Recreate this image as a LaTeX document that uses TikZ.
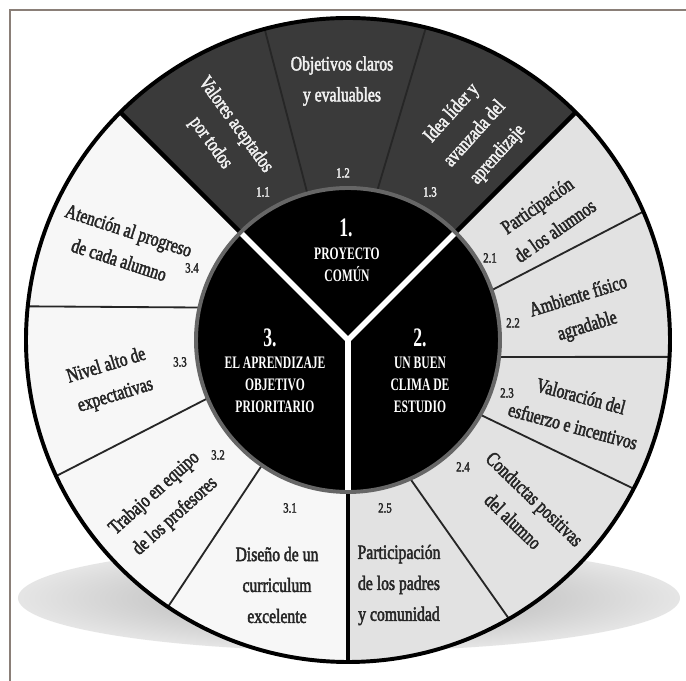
\documentclass[tikz,border=0pt]{standalone}
\usepackage{fontspec}
\setmainfont{Liberation Serif}[FakeStretch=0.78]
\newfontfamily\segfont{Liberation Serif}[FakeStretch=0.77, FakeBold=2.2]
\newfontfamily\hubfont{Liberation Serif}[FakeStretch=0.66]
\definecolor{framegray}{HTML}{8A7F78}
\definecolor{darkseg}{HTML}{3A3A3A}
\definecolor{greyseg}{HTML}{E2E2E2}
\definecolor{whiteseg}{HTML}{F7F7F7}
\tikzset{seg/.style={font=\segfont\fontsize{14.5}{22}\selectfont,align=center,text=black!85,inner sep=0pt}}
\tikzset{segw/.style={seg,text=black!6}}
\tikzset{num/.style={font=\segfont\fontsize{10}{10}\selectfont,text=black!85,inner sep=0pt}}
\tikzset{numw/.style={num,text=black!6}}
\tikzset{hub/.style={font=\hubfont\bfseries\fontsize{12.5}{15.6}\selectfont,align=center,text=white,inner sep=0pt}}
\tikzset{hubnum/.style={font=\hubfont\bfseries\fontsize{19}{20}\selectfont,text=white,inner sep=0pt}}
\tikzset{divthin/.style={line width=1.3pt,black!85}}
\tikzset{divthick/.style={line width=3.2pt}}

\begin{document}
\begin{tikzpicture}[x=0.025cm,y=0.025cm]
    \useasboundingbox[fill=white] (-348,-341) rectangle (338,340);
    \draw[line width=1.3pt, framegray] (-338,-341) -- (-338,330) -- (338,330);
    \shade[inner color=black!34, outer color=black!10] (1,-258) ellipse [x radius=331, y radius=53];

    \coordinate (hub) at (0,0);
    \fill[whiteseg] (hub) circle[radius=322];
    \fill[greyseg] (hub) -- (45:322) arc[start angle=45, end angle=-90, radius=322] -- cycle;
    \fill[darkseg] (hub) -- (45:322) arc[start angle=45, end angle=135, radius=322] -- cycle;

    \draw[divthin] (105.5:150) -- (105:322);
    \draw[divthin] (79:150) -- (76:322);
    \draw[divthin] (19:150) -- (23.5:322);
    \draw[divthin] (-6.5:150) -- (-3:322);
    \draw[divthin] (-29.5:150) -- (-27.5:322);
    \draw[divthin] (-66:150) -- (-60:322);
    \draw[divthin] (235.5:150) -- (236:322);
    \draw[divthin] (202.5:150) -- (205:322);
    \draw[divthin] (167.5:150) -- (174:322);
    \draw[divthick] (135:150) -- (135:322);
    \draw[divthick] (45:150) -- (45:322);
    \draw[divthick] (-90:150) -- (-90:322);
    \draw[line width=2.8pt] (hub) circle[radius=322];

    \filldraw[fill=black, draw=black!60, line width=2.8pt] (hub) circle[radius=152];
    \draw[white, line width=4pt] (hub) -- (135:150);
    \draw[white, line width=4pt] (hub) -- (45:150);
    \draw[white, line width=4pt] (hub) -- (-90:150);

    \node[segw, rotate=-54] (t11) at (-125,206) {Valores aceptados\\por todos};
    \node[segw] (t12) at (-6,259) {Objetivos claros\\y evaluables};
    \node[segw, rotate=48] (t13) at (127,206) {Idea líder y\\avanzada del\\aprendizaje};
    \node[numw] (n11) at (-85,148) {1.1};
    \node[numw] (n12) at (-5,167) {1.2};
    \node[numw] (n13) at (82,148) {1.3};

    \node[seg, rotate=35] (t21) at (198,122) {Participación\\de los alumnos};
    \node[seg, rotate=17] (t22) at (235,28) {Ambiente físico\\agradable};
    \node[seg, rotate=-15] (t23) at (229,-71) {Valoración del\\esfuerzo e incentivos};
    \node[seg, rotate=-44] (t24) at (176,-170) {Conductas positivas\\del alumno};
    \node[seg] (t25) at (51,-245) {Participación\\de los padres\\y comunidad};
    \node[num] (n21) at (142,82) {2.1};
    \node[num] (n22) at (165,17) {2.2};
    \node[num] (n23) at (159,-53) {2.3};
    \node[num] (n24) at (115,-127) {2.4};
    \node[num] (n25) at (37,-168) {2.5};

    \node[seg] (t31) at (-71,-245) {Diseño de un\\curriculum\\excelente};
    \node[seg, rotate=42] (t32) at (-183,-165) {Trabajo en equipo\\de los profesores};
    \node[seg, rotate=17] (t33) at (-237,-41) {Nivel alto de\\expectativas};
    \node[seg, rotate=-18] (t34) at (-224,95) {Atención al progreso\\de cada alumno};
    \node[num] (n31) at (-58,-168) {3.1};
    \node[num] (n32) at (-130,-115) {3.2};
    \node[num] (n33) at (-168,-22) {3.3};
    \node[num] (n34) at (-156,72) {3.4};

    \node[hubnum] (h1) at (-2,112) {1.};
    \node[hub] (c1) at (-1,75) {PROYECTO\\COMÚN};
    \node[hubnum] (h2) at (72,2) {2.};
    \node[hub] (c2) at (72,-45) {UN BUEN\\CLIMA DE\\ESTUDIO};
    \node[hubnum] (h3) at (-78,2) {3.};
    \node[hub] (c3) at (-73,-45) {EL APRENDIZAJE\\OBJETIVO\\PRIORITARIO};
\end{tikzpicture}
\end{document}
